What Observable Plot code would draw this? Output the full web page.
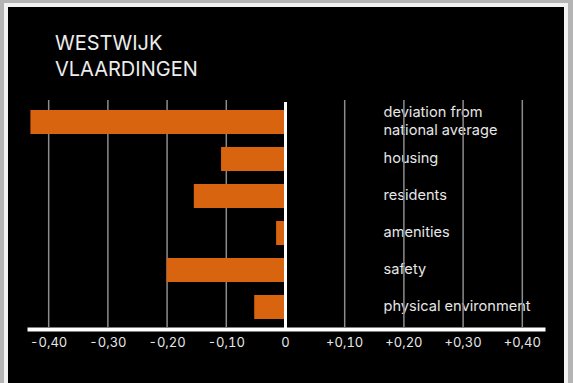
<!DOCTYPE html>
<html>
<head>
<meta charset="utf-8">
<script src="https://cdn.jsdelivr.net/npm/d3@7"></script>
<script src="https://cdn.jsdelivr.net/npm/@observablehq/plot@0.6"></script>
<style>
  html, body { margin: 0; padding: 0; }
  body {
    width: 573px; height: 383px; overflow: hidden; position: relative;
    background: #b4b4b4;
    font-family: Inter, "Noto Sans", sans-serif;
  }
  #panel {
    position: absolute; left: 4px; top: 3px;
    width: 556px; height: 384px;
    background: #000; border: 4px solid #f2f2f2; box-sizing: content-box;
  }
  #title {
    position: absolute; left: 55px; top: 30px;
    color: #ececec; font-size: 20px; line-height: 26px; font-weight: 400;
    margin: 0;
  }
  #chart { position: absolute; left: 0; top: 0; }
</style>
</head>
<body>
<div id="panel"></div>
<h1 id="title">WESTWIJK<br>VLAARDINGEN</h1>
<div id="chart"></div>
<script>
// Neighbourhood scores as deviation from the national average
const categories = [
  "deviation from\nnational average",
  "housing",
  "residents",
  "amenities",
  "safety",
  "physical environment"
];
const values = [-0.43, -0.108, -0.154, -0.015, -0.20, -0.052];

const ticks = [-0.4, -0.3, -0.2, -0.1, 0, 0.1, 0.2, 0.3, 0.4];
const tickLabels = ["-0,40", "-0,30", "-0,20", "-0,10", "0", "+0,10", "+0,20", "+0,30", "+0,40"];

const rows = categories.map((c, i) => ({category: c, value: values[i]}));

const chart = Plot.plot({
  width: 573,
  height: 383,
  marginLeft: 29,
  marginRight: 30,
  marginTop: 102,
  marginBottom: 56,
  style: {background: "transparent", color: "#e6e6e6", fontFamily: "Inter, sans-serif", fontSize: "14px"},
  x: {domain: [-0.4324, 0.4358], label: null},
  y: {domain: categories, paddingInner: 0.36, paddingOuter: 0.18, axis: null},
  marks: [
    // category labels on the right-hand side
    Plot.text(categories, {
      y: d => d, frameAnchor: "right", dx: -160, dy: -2, textAnchor: "start",
      lineHeight: 1.25, fill: "#e6e6e6", fontSize: 14.6
    }),
    // vertical grid
    Plot.ruleX(ticks.filter(d => d !== 0), {stroke: "#8c8c8c", strokeWidth: 1.5, insetTop: -2}),
    // bars
    Plot.barX(rows, {y: "category", x1: 0, x2: "value", fill: "#d9640f"}),
    // zero line
    Plot.ruleX([0], {stroke: "#ffffff", strokeWidth: 3, insetBottom: -4}),
    // baseline
    Plot.frame({anchor: "bottom", stroke: "#ffffff", strokeWidth: 4, dy: 2}),
    Plot.axisX({
      ticks,
      tickFormat: d => tickLabels[ticks.indexOf(d)],
      tickSize: 0, tickPadding: 10, fontSize: 13, fill: "#e6e6e6", label: null
    })
  ]
});

document.getElementById("chart").append(chart);
</script>
</body>
</html>
